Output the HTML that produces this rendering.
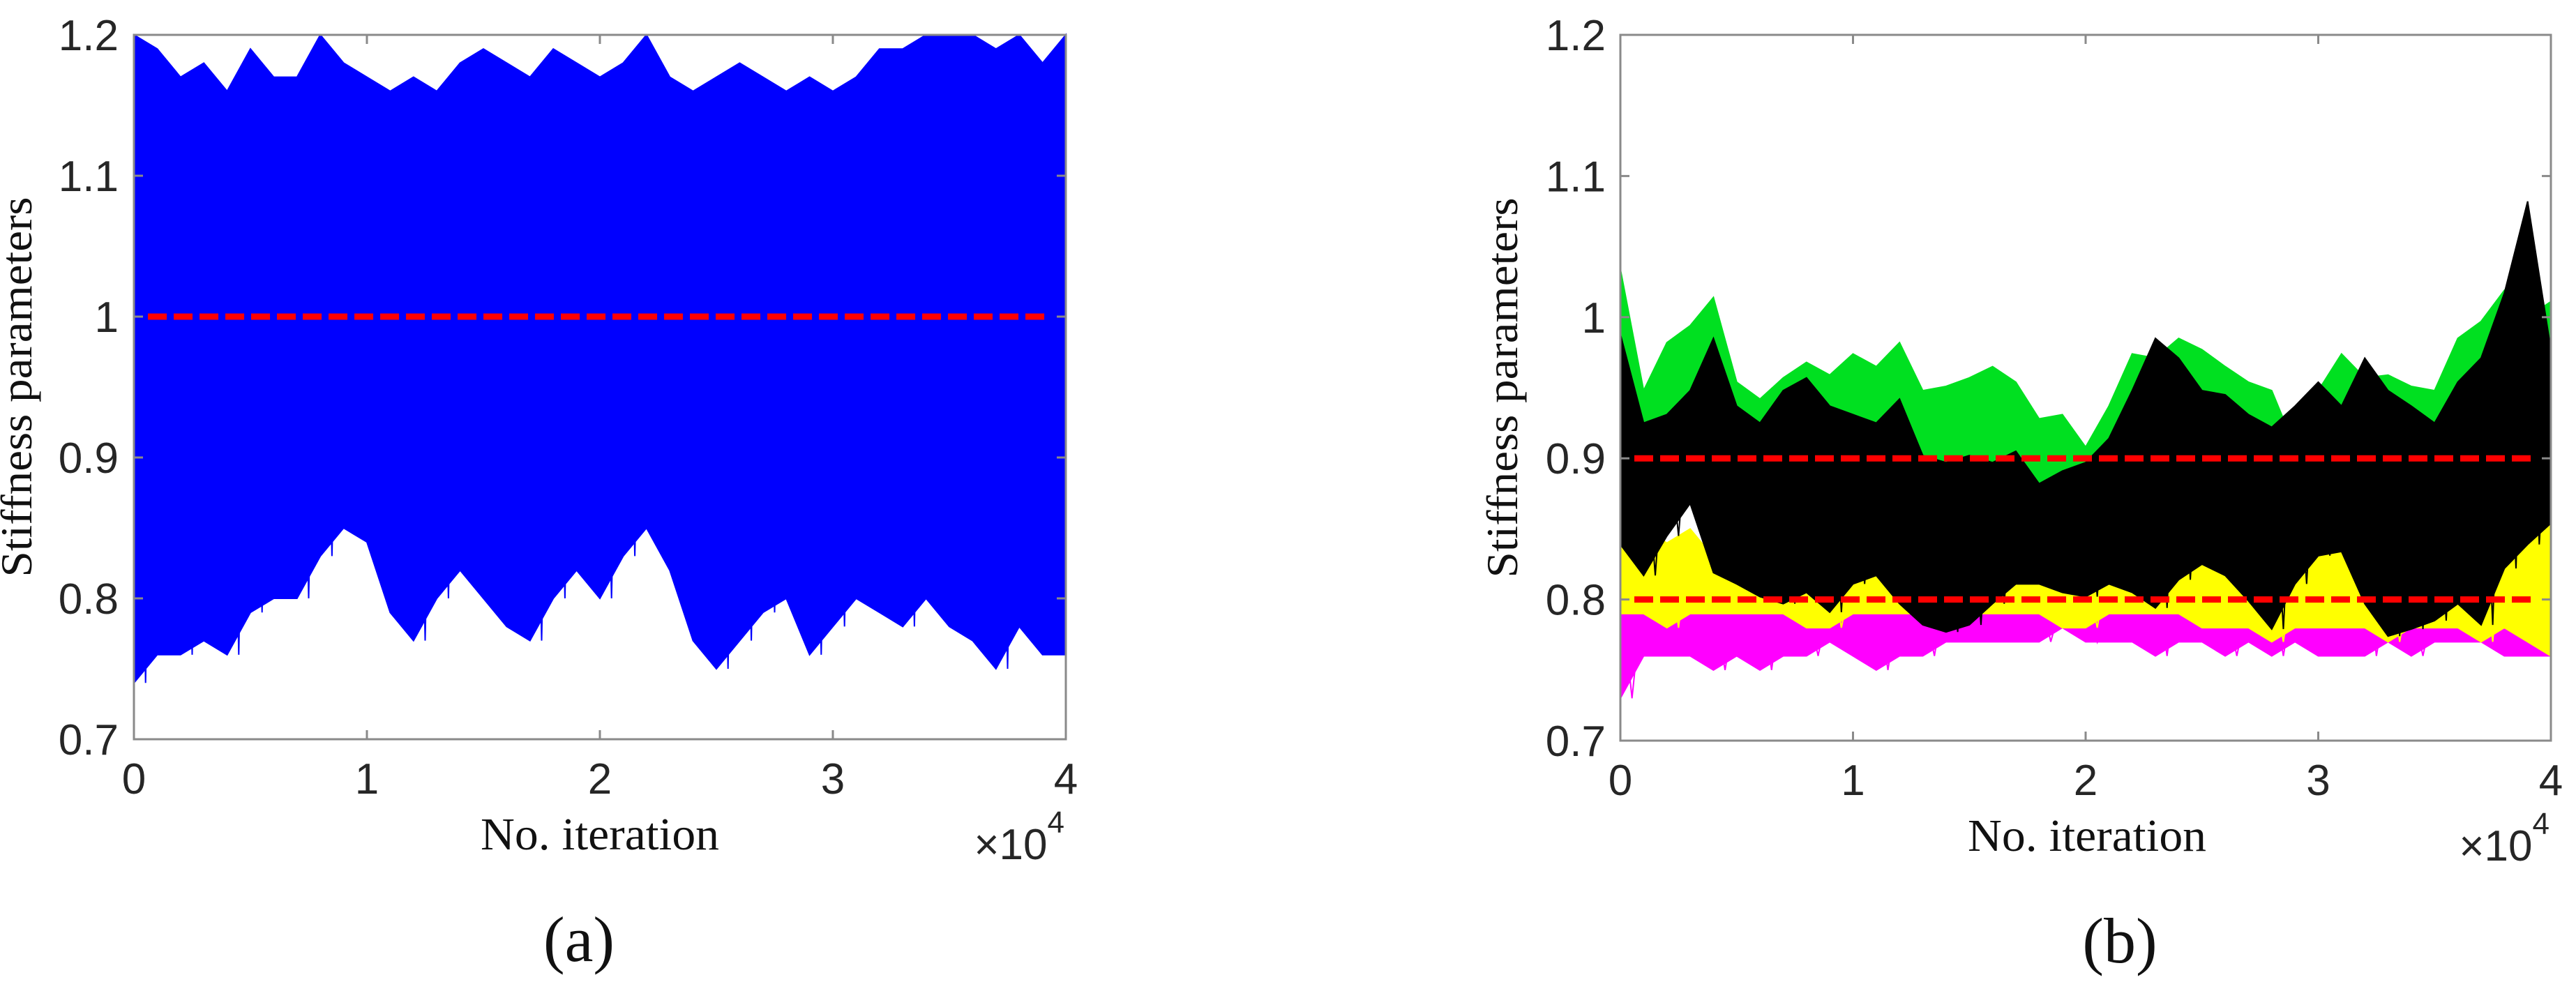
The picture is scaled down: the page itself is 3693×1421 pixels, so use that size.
<!DOCTYPE html>
<html><head><meta charset="utf-8"><style>
html,body{margin:0;padding:0;background:#fff;}
svg{display:block;}
.tick{font-family:"Liberation Sans",sans-serif;font-size:62px;fill:#262626;}
.ser{font-family:"Liberation Serif",serif;fill:#111;}
</style></head><body>
<svg id="fig" width="3693" height="1421" viewBox="0 0 3693 1421" xmlns="http://www.w3.org/2000/svg"></svg>
<script>
// ---- data ----
const xTicks = [0, 1, 2, 3, 4];
const yTicks = [0.7, 0.8, 0.9, 1.0, 1.1, 1.2];
const yTickLabels = ["0.7", "0.8", "0.9", "1", "1.1", "1.2"];
const xTickLabels = ["0", "1", "2", "3", "4"];
const iterFrac = [0,0.025,0.05,0.075,0.1,0.125,0.15,0.175,0.2,0.225,0.25,0.275,0.3,0.325,0.35,0.375,0.4,0.425,0.45,0.475,0.5,0.525,0.55,0.575,0.6,0.625,0.65,0.675,0.7,0.725,0.75,0.775,0.8,0.825,0.85,0.875,0.9,0.925,0.95,0.975,1];
const blueUpper = [1.2,1.19,1.17,1.18,1.16,1.19,1.17,1.17,1.2,1.18,1.17,1.16,1.17,1.16,1.18,1.19,1.18,1.17,1.19,1.18,1.17,1.18,1.2,1.17,1.16,1.17,1.18,1.17,1.16,1.17,1.16,1.17,1.19,1.19,1.2,1.2,1.2,1.19,1.2,1.18,1.2];
const blueLower = [0.74,0.76,0.76,0.77,0.76,0.79,0.8,0.8,0.83,0.85,0.84,0.79,0.77,0.8,0.82,0.8,0.78,0.77,0.8,0.82,0.8,0.83,0.85,0.82,0.77,0.75,0.77,0.79,0.8,0.76,0.78,0.8,0.79,0.78,0.8,0.78,0.77,0.75,0.78,0.76,0.76];
const trueA = [1.0];
const trueB = [0.9, 0.8];
const greenUpper = [1.034,0.948,0.982,0.994,1.014,0.954,0.942,0.957,0.968,0.959,0.974,0.965,0.982,0.948,0.951,0.957,0.965,0.954,0.928,0.931,0.908,0.937,0.974,0.971,0.985,0.977,0.965,0.954,0.948,0.908,0.948,0.974,0.957,0.959,0.951,0.948,0.985,0.997,1.019,1.0,1.011];
const greenLower = [0.9,0.88,0.87,0.87,0.88,0.86,0.86,0.86,0.87,0.86,0.86,0.86,0.86,0.85,0.85,0.84,0.84,0.85,0.85,0.86,0.87,0.86,0.86,0.86,0.86,0.86,0.86,0.86,0.87,0.87,0.87,0.86,0.86,0.86,0.86,0.86,0.86,0.86,0.86,0.86,0.88];
const blackUpper = [0.988,0.925,0.931,0.948,0.985,0.937,0.925,0.948,0.957,0.937,0.931,0.925,0.942,0.902,0.897,0.902,0.897,0.905,0.882,0.891,0.897,0.914,0.948,0.985,0.971,0.948,0.945,0.931,0.922,0.937,0.954,0.937,0.971,0.948,0.937,0.925,0.954,0.971,1.017,1.082,0.977];
const blackLower = [0.839,0.817,0.845,0.868,0.819,0.811,0.802,0.797,0.805,0.791,0.811,0.817,0.797,0.782,0.777,0.782,0.797,0.811,0.811,0.805,0.802,0.811,0.805,0.794,0.814,0.825,0.817,0.799,0.779,0.811,0.831,0.834,0.797,0.774,0.779,0.785,0.797,0.782,0.822,0.839,0.854];
const yellowUpper = [0.88,0.85,0.84,0.85,0.83,0.83,0.82,0.83,0.84,0.83,0.82,0.84,0.85,0.84,0.86,0.85,0.82,0.83,0.84,0.83,0.82,0.83,0.85,0.84,0.86,0.85,0.84,0.83,0.82,0.83,0.84,0.84,0.83,0.83,0.82,0.82,0.83,0.84,0.86,0.89,0.85];
const yellowLower = [0.79,0.79,0.78,0.79,0.79,0.79,0.79,0.79,0.78,0.78,0.79,0.79,0.79,0.79,0.79,0.79,0.79,0.79,0.79,0.78,0.78,0.79,0.79,0.79,0.79,0.78,0.78,0.78,0.77,0.78,0.78,0.78,0.78,0.77,0.78,0.78,0.78,0.77,0.78,0.77,0.76];
const magentaUpper = [0.81,0.81,0.80,0.81,0.80,0.80,0.81,0.81,0.80,0.80,0.81,0.81,0.80,0.80,0.81,0.81,0.82,0.82,0.81,0.80,0.80,0.80,0.81,0.82,0.82,0.81,0.80,0.80,0.81,0.81,0.82,0.82,0.83,0.81,0.80,0.80,0.81,0.80,0.80,0.80,0.80];
const magentaLower = [0.73,0.76,0.76,0.76,0.75,0.76,0.75,0.76,0.76,0.77,0.76,0.75,0.76,0.76,0.77,0.77,0.77,0.77,0.77,0.78,0.77,0.77,0.77,0.76,0.77,0.77,0.76,0.77,0.76,0.77,0.76,0.76,0.76,0.77,0.76,0.77,0.77,0.77,0.76,0.76,0.76];

const NS = "http://www.w3.org/2000/svg";
const svg = document.getElementById('fig');
function mk(tag, attrs, parent) {
  const e = document.createElementNS(NS, tag);
  for (const k in attrs) e.setAttribute(k, attrs[k]);
  (parent || svg).appendChild(e);
  return e;
}
function makeAxes(x0, x1, y0, y1) {
  return {
    x: v => x0 + (v / 4) * (x1 - x0),
    y: v => y1 - (v - 0.7) / 0.5 * (y1 - y0),
    x0, x1, y0, y1
  };
}
function band(ax, upper, lower, fill, name, g) {
  let pts = [];
  for (let i = 0; i < iterFrac.length; i++) pts.push(ax.x(iterFrac[i] * 4) + "," + ax.y(upper[i]));
  for (let i = iterFrac.length - 1; i >= 0; i--) pts.push(ax.x(iterFrac[i] * 4) + "," + ax.y(lower[i]));
  const p = mk('polygon', {points: pts.join(' '), fill: fill, stroke: fill, 'stroke-width': 2, 'stroke-linejoin': 'miter'}, g);
  
  
  let z = [];
  for (let i = 0; i < iterFrac.length; i++) {
    z.push(ax.x(iterFrac[i] * 4) + "," + ax.y(upper[i]));
    if (i < iterFrac.length - 1) z.push(ax.x((iterFrac[i] + iterFrac[i + 1]) * 2) + "," + ax.y(lower[i]));
  }
  const l = mk('polyline', {points: z.join(' '), fill: 'none', stroke: fill, 'stroke-width': 2}, g);
  
  
}
function dashLine(ax, v, g, name) {
  const l = mk('line', {x1: ax.x(0.06), x2: ax.x(3.93), y1: ax.y(v), y2: ax.y(v), stroke: '#ff0000', 'stroke-width': 9, 'stroke-dasharray': '27 10'}, g);
  
  
}
function frame(ax, g, labX, labRight, xlabCx, capCx, cap) {
  const r = mk('rect', {x: ax.x0, y: ax.y0, width: ax.x1 - ax.x0, height: ax.y1 - ax.y0, fill: 'none', stroke: '#8a8a8a', 'stroke-width': 3}, g);
  
  
  for (let i = 0; i < yTicks.length; i++) {
    const y = ax.y(yTicks[i]);
    const t1 = mk('line', {x1: ax.x0, x2: ax.x0 + 13, y1: y, y2: y, stroke: '#8a8a8a', 'stroke-width': 3}, g);
    
    
    const t2 = mk('line', {x1: ax.x1, x2: ax.x1 - 13, y1: y, y2: y, stroke: '#8a8a8a', 'stroke-width': 3}, g);
    
    
    const tx = mk('text', {x: labRight, y: y + 22, 'text-anchor': 'end', class: 'tick'}, g);
    tx.textContent = yTickLabels[i];
    
    
  }
  for (let i = 0; i < xTicks.length; i++) {
    const x = ax.x(xTicks[i]);
    const t1 = mk('line', {x1: x, x2: x, y1: ax.y1, y2: ax.y1 - 13, stroke: '#8a8a8a', 'stroke-width': 3}, g);
    
    
    const t2 = mk('line', {x1: x, x2: x, y1: ax.y0, y2: ax.y0 + 13, stroke: '#8a8a8a', 'stroke-width': 3}, g);
    
    
    const tx = mk('text', {x: x, y: ax.y1 + 78, 'text-anchor': 'middle', class: 'tick'}, g);
    tx.textContent = xTickLabels[i];
    
    
  }
  const ex = mk('text', {x: ax.x1 - 2, y: ax.y1 + 172, 'text-anchor': 'end', class: 'tick', 'font-size': 60}, g);
  ex.innerHTML = '×10<tspan dy="-38" font-size="44">4</tspan>';
  
  
  const yl = mk('text', {x: 0, y: 0, class: 'ser', 'font-size': 64, 'text-anchor': 'middle', textLength: 545, lengthAdjust: 'spacingAndGlyphs', transform: 'translate(' + labX + ',' + ((ax.y0 + ax.y1) / 2) + ') rotate(-90)'}, g);
  yl.textContent = 'Stiffness parameters';
  
  
  const xl = mk('text', {x: xlabCx, y: ax.y1 + 158, class: 'ser', 'font-size': 66, 'text-anchor': 'middle', textLength: 342, lengthAdjust: 'spacingAndGlyphs'}, g);
  xl.textContent = 'No. iteration';
  
  
  const c = mk('text', {x: capCx, y: ax.y1 + 318, class: 'ser', 'font-size': 92, 'text-anchor': 'middle'}, g);
  c.textContent = cap;
  
  
}

// Panel (a)
const axA = makeAxes(192, 1528, 50, 1060);
const gA = mk('g', {});


band(axA, blueUpper, blueLower, '#0000ff', 'blue-samples', gA);
dashLine(axA, trueA[0], gA, 'true-value-line');
frame(axA, gA, 45, 170, 860, 830, '(a)');

// Panel (b)
const axB = makeAxes(2323, 3657, 50, 1062);
const gB = mk('g', {});


band(axB, magentaUpper, magentaLower, '#ff00ff', 'magenta-samples', gB);
band(axB, yellowUpper, yellowLower, '#ffff00', 'yellow-samples', gB);
band(axB, greenUpper, greenLower, '#00e020', 'green-samples', gB);
band(axB, blackUpper, blackLower, '#000000', 'black-samples', gB);
for (let i = 0; i < trueB.length; i++) dashLine(axB, trueB[i], gB, 'true-value-line');
frame(axB, gB, 2175, 2302, 2992, 3039, '(b)');
</script>
</body></html>
